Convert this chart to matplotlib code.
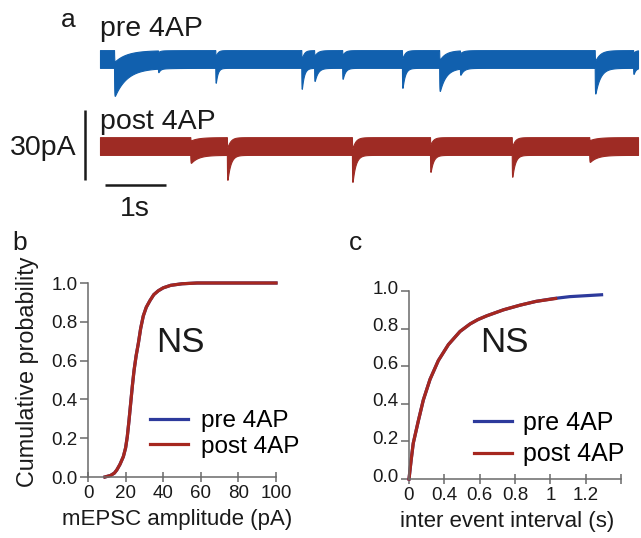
import numpy as np
import matplotlib
matplotlib.use("Agg")
import matplotlib.pyplot as plt
from matplotlib.transforms import ScaledTranslation

plt.rcParams['font.family'] = ['Liberation Sans', 'DejaVu Sans']

# ---------------- data ----------------
# panel a: example traces, events (time s, amplitude pA, decay s)
TRACE_DURATION_S = 8.82
PRE_EVENT_T = [0.23, 0.95, 1.89, 3.30, 3.51, 3.97, 4.95, 5.56, 5.90, 8.11, 8.74]
PRE_EVENT_AMP = [12.0, 1.5, 6.4, 9.0, 5.6, 4.7, 8.6, 9.9, 2.6, 11.0, 2.6]
PRE_EVENT_TAU = [0.2, 0.03, 0.03, 0.035, 0.05, 0.04, 0.04, 0.1, 0.05, 0.08, 0.03]
POST_EVENT_T = [1.48, 2.08, 4.13, 5.41, 6.75, 8.02]
POST_EVENT_AMP = [3.4, 10.7, 11.6, 7.3, 9.4, 3.0]
POST_EVENT_TAU = [0.12, 0.05, 0.05, 0.045, 0.045, 0.12]
NOISE_HALF_WIDTH_PA = 3.8
POST_OFFSET_PA = -37.3
SCALE_PA = 30
SCALE_S = 1

# panel b: cumulative probability of mEPSC amplitude
AMP_PA = [9, 12, 14, 15.3, 17, 18.8, 20, 20.9, 21.8, 22.7, 23.6, 24.5, 25.6, 26.8,
          28, 29.4, 31, 33, 35, 37.4, 40, 44, 50, 58, 100]
PRE_AMP_CDF = [0, 0.008, 0.02, 0.036, 0.065, 0.105, 0.15, 0.208, 0.29, 0.38, 0.47,
               0.55, 0.625, 0.69, 0.765, 0.83, 0.875, 0.91, 0.94, 0.96, 0.975, 0.988,
               0.996, 1.0, 1.0]
POST_AMP_CDF = [0, 0.008, 0.02, 0.036, 0.065, 0.105, 0.15, 0.208, 0.29, 0.38, 0.47,
                0.55, 0.625, 0.69, 0.765, 0.83, 0.875, 0.91, 0.94, 0.96, 0.975, 0.988,
                0.996, 1.0, 1.0]

# panel c: cumulative probability of inter event interval
PRE_IEI = [0, 0.012, 0.024, 0.053, 0.081, 0.119, 0.166, 0.223, 0.289, 0.346, 0.39,
           0.44, 0.535, 0.63, 0.72, 0.82, 0.91, 1.0, 1.09]
PRE_IEI_CDF = [0, 0.1, 0.19, 0.31, 0.42, 0.53, 0.63, 0.715, 0.785, 0.825, 0.848,
               0.868, 0.90, 0.925, 0.945, 0.96, 0.97, 0.975, 0.98]
POST_IEI = [0, 0.012, 0.024, 0.053, 0.081, 0.119, 0.166, 0.223, 0.289, 0.346, 0.39,
            0.44, 0.535, 0.63, 0.72, 0.83]
POST_IEI_CDF = [0, 0.1, 0.19, 0.31, 0.42, 0.53, 0.63, 0.715, 0.785, 0.825, 0.848,
                0.868, 0.90, 0.925, 0.945, 0.96]

AMP_TICKS = [0, 20, 40, 60, 80, 100]
PROB_TICKS = [0, 0.2, 0.4, 0.6, 0.8, 1.0]
PROB_TICKLABELS = ['0.0', '0.2', '0.4', '0.6', '0.8', '1.0']
IEI_TICKS = [0, 0.2, 0.4, 0.6, 0.8, 1.0, 1.2]
IEI_TICKLABELS = ['0', '0.4', '0.6', '0.8', '1', '1.2', '']

# ---------------- style ----------------
W, H = 641, 538
fig = plt.figure(figsize=(W / 100, H / 100), dpi=100)

TRACE_BLUE = '#1160ae'
TRACE_RED = '#9e2b24'
CURVE_BLUE = '#2d3a9c'
CURVE_RED = '#a6271f'
AX_GRAY = '#6a6a6a'
TXT = '#1a1a1a'
UPPER_EDGE_FRACTION = 0.4   # how much of an event the upper edge of the noise band follows


def px_axes(x0, y0, x1, y1):
    return fig.add_axes([x0 / W, 1 - y1 / H, (x1 - x0) / W, (y1 - y0) / H])


def ftext(x, y, s, **kw):
    return fig.text(x / W, 1 - y / H, s, **kw)


# ---------------- panel a ----------------
PX_PER_S = 61.0
PX_PER_PA = 70.0 / 30.0
ax_a = px_axes(0, 0, 641, 230)
ax_a.set_xlim((0 - 100) / PX_PER_S, (641 - 100) / PX_PER_S)
ax_a.set_ylim((59 - 230) / PX_PER_PA, 59 / PX_PER_PA)
ax_a.axis('off')

t = np.arange(0, TRACE_DURATION_S, 0.0005)


def events(ev_t, ev_a, ev_tau):
    y = np.zeros_like(t)
    for t0, a, tau in zip(ev_t, ev_a, ev_tau):
        dt = np.clip(t - t0, 0, None)
        k = np.where(t >= t0, (1 - np.exp(-dt / 0.003)) * np.exp(-dt / tau), 0.0)
        k = k / k.max()
        y -= a * k
    return y


for ev_t, ev_a, ev_tau, off, col in [
        (PRE_EVENT_T, PRE_EVENT_AMP, PRE_EVENT_TAU, 0.0, TRACE_BLUE),
        (POST_EVENT_T, POST_EVENT_AMP, POST_EVENT_TAU, POST_OFFSET_PA, TRACE_RED)]:
    ev = events(ev_t, ev_a, ev_tau)
    lower = off + ev - NOISE_HALF_WIDTH_PA
    upper = off + UPPER_EDGE_FRACTION * ev + NOISE_HALF_WIDTH_PA
    ax_a.fill_between(t, lower, upper, color=col, lw=0.8, edgecolor=col)

# scale bars
bar_x = (85 - 100) / PX_PER_S
bar_top = (59 - 110) / PX_PER_PA
ax_a.plot([bar_x, bar_x], [bar_top, bar_top - SCALE_PA], color=TXT, lw=1.8,
          solid_capstyle='butt')
hb_y = (59 - 185) / PX_PER_PA
hb_x0 = (105 - 100) / PX_PER_S
ax_a.plot([hb_x0, hb_x0 + SCALE_S], [hb_y, hb_y], color=TXT, lw=1.8,
          solid_capstyle='butt')

ftext(68, 27, 'a', fontsize=19, ha='center', va='baseline', color=TXT)
ftext(100, 36, 'pre 4AP', fontsize=20.5, ha='left', va='baseline', color=TXT)
ftext(100, 129, 'post 4AP', fontsize=20.5, ha='left', va='baseline', color=TXT)
ftext(77, 155, f'{SCALE_PA}pA', fontsize=20.5, ha='right', va='baseline', color=TXT)
ftext(135, 216, f'{SCALE_S}s', fontsize=20.5, ha='center', va='baseline', color=TXT)


# ---------------- panels b, c ----------------
def style_axes(ax):
    for s in ['top', 'right']:
        ax.spines[s].set_visible(False)
    for s in ['left', 'bottom']:
        ax.spines[s].set_color(AX_GRAY)
        ax.spines[s].set_linewidth(1.1)
    ax.tick_params(axis='y', direction='out', length=5.5, width=1.1, color=AX_GRAY,
                   labelsize=13.5, labelcolor=TXT, pad=2)
    ax.tick_params(axis='x', direction='inout', length=7, width=1.1, color=AX_GRAY,
                   labelsize=13.5, labelcolor=TXT, pad=2)
    ax.set_ylim(0, 1)
    ax.set_yticks(PROB_TICKS)
    ax.set_yticklabels(PROB_TICKLABELS)


# panel b
ax_b = px_axes(88, 283, 276, 477)
style_axes(ax_b)
ax_b.set_xlim(0, 100)
ax_b.set_xticks(AMP_TICKS)
ax_b.plot(AMP_PA, PRE_AMP_CDF, color=CURVE_BLUE, lw=2.3, clip_on=False, label='pre 4AP')
ax_b.plot(AMP_PA, POST_AMP_CDF, color=CURVE_RED, lw=2.3, clip_on=False, label='post 4AP')
ax_b.set_xlabel('mEPSC amplitude (pA)', fontsize=16, color=TXT, va='center')
ax_b.xaxis.set_label_coords((177 - 88) / 188, (477 - 520) / 194)
ax_b.set_ylabel('Cumulative probability', fontsize=16.8, color=TXT, va='center')
ax_b.yaxis.set_label_coords((28 - 88) / 188, (477 - 372) / 194)
ax_b.text((180 - 88) / 188, (477 - 352) / 194, 'NS', transform=ax_b.transAxes,
          fontsize=25, ha='center', va='baseline', color=TXT)
ax_b.legend(loc='center left', bbox_to_anchor=(150 / W, 1 - 434 / H),
            bbox_transform=fig.transFigure, frameon=False, fontsize=17.5,
            handlelength=1.55, handletextpad=0.55, labelspacing=0.15, borderpad=0,
            borderaxespad=0)
ftext(20, 250, 'b', fontsize=19, ha='center', va='baseline', color=TXT)

# panel c
ax_c = px_axes(409, 291, 621, 479)
style_axes(ax_c)
ax_c.set_xlim(0, 1.2)
ax_c.set_xticks(IEI_TICKS)
ax_c.set_xticklabels(IEI_TICKLABELS)
ax_c.plot(PRE_IEI, PRE_IEI_CDF, color=CURVE_BLUE, lw=2.3, clip_on=False, label='pre 4AP')
ax_c.plot(POST_IEI, POST_IEI_CDF, color=CURVE_RED, lw=2.3, clip_on=False, label='post 4AP')
ax_c.set_xlabel('inter event interval (s)', fontsize=16, color=TXT, va='center')
ax_c.xaxis.set_label_coords((507 - 409) / 212, (479 - 521) / 188)
ax_c.text((504 - 409) / 212, (479 - 352) / 188, 'NS', transform=ax_c.transAxes,
          fontsize=25, ha='center', va='baseline', color=TXT)
ax_c.legend(loc='center left', bbox_to_anchor=(474 / W, 1 - 438.5 / H),
            bbox_transform=fig.transFigure, frameon=False, fontsize=18,
            handlelength=1.5, handletextpad=0.45, labelspacing=0.3, borderpad=0,
            borderaxespad=0)
ftext(355, 250, 'c', fontsize=19, ha='center', va='baseline', color=TXT)

# raise the y tick labels of panel c slightly, as in the reference
for tick in ax_c.yaxis.get_major_ticks():
    tick.label1.set_transform(tick.label1.get_transform() +
                              ScaledTranslation(0, 4 / 100, fig.dpi_scale_trans))

fig.savefig('out.png', dpi=100)
